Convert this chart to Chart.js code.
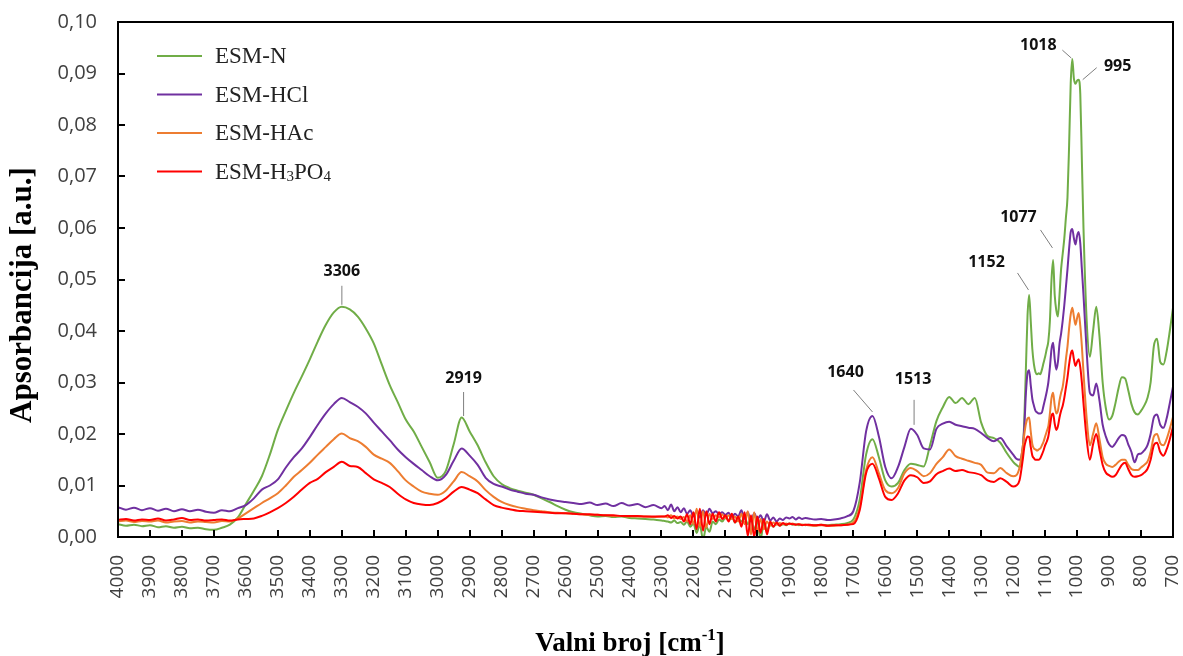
<!DOCTYPE html>
<html>
<head>
<meta charset="utf-8">
<script src="https://cdn.jsdelivr.net/npm/chart.js@4/dist/chart.umd.min.js"></script>
<style>
  html, body { margin: 0; padding: 0; background: #fff; }
  #wrap { width: 1183px; height: 656px; }
</style>
</head>
<body>
<div id="wrap"><canvas id="ftir" width="1183" height="656"></canvas></div>
<script>
// Valni brojevi (cm-1), zajednički za sve serije
const wavenumbers = [
  // 4000-2300, korak 25
  4000,3975,3950,3925,3900,3875,3850,3825,3800,3775,
  3750,3725,3700,3675,3650,3625,3600,3575,3550,3525,
  3500,3475,3450,3425,3400,3375,3350,3325,3300,3275,
  3250,3225,3200,3175,3150,3125,3100,3075,3050,3025,
  3000,2975,2950,2925,2900,2875,2850,2825,2800,2775,
  2750,2725,2700,2675,2650,2625,2600,2575,2550,2525,
  2500,2475,2450,2425,2400,2375,2350,2325,2300,
  // 2290-1850, korak 10
  2290,2280,2270,2260,2250,2240,2230,2220,2210,2200,
  2190,2180,2170,2160,2150,2140,2130,2120,2110,2100,
  2090,2080,2070,2060,2050,2040,2030,2020,2010,2000,
  1990,1980,1970,1960,1950,1940,1930,1920,1910,1900,
  1890,1880,1870,1860,1850,
  // 1840-1200, korak 20
  1840,1820,1800,1780,1760,1740,1720,1700,1680,1660,
  1640,1620,1600,1580,1560,1540,1520,1500,1480,1460,
  1440,1420,1400,1380,1360,1340,1320,1300,1280,1260,
  1240,1220,1200,
  // 1190-700
  1190,1180,1170,1165,1160,1155,1150,1145,1140,1135,
  1130,1125,1120,1115,1110,1105,1100,1095,1090,1085,
  1080,1075,1070,1065,1060,1055,1050,1045,1040,1035,
  1030,1025,1020,1015,1010,1005,1000,995,990,985,
  980,970,960,950,940,930,920,910,900,890,
  880,870,860,850,840,830,820,810,800,790,
  780,770,760,750,740,730,720,710,700
];

const esmN = [
  0.0025,0.0022,0.0024,0.0021,0.0023,0.0019,0.0021,0.0018,0.0020,0.0017,
  0.0018,0.0015,0.0014,0.0018,0.0024,0.0038,0.0064,0.0090,0.0118,0.0160,
  0.0208,0.0245,0.0280,0.0312,0.0345,0.0380,0.0412,0.0436,0.0447,0.0442,
  0.0428,0.0405,0.0376,0.0335,0.0295,0.0262,0.0228,0.0205,0.0175,0.0145,
  0.0115,0.0128,0.0180,0.0232,0.0205,0.0178,0.0145,0.0118,0.0103,0.0095,
  0.0090,0.0086,0.0082,0.0075,0.0068,0.0060,0.0053,0.0048,0.0045,0.0042,
  0.0040,0.0041,0.0039,0.0040,0.0037,0.0036,0.0035,0.0034,0.0032,
  0.0031,0.0030,0.0028,0.0032,0.0027,0.0029,0.0024,0.0030,0.0020,0.0026,
  0.0008,0.0024,-0.0005,0.0020,0.0010,0.0030,0.0025,0.0034,0.0030,0.0038,
  0.0033,0.0040,0.0028,0.0036,0.0030,0.0038,0.0025,0.0035,0.0015,0.0030,
  -0.0005,0.0028,0.0012,0.0025,0.0020,0.0026,0.0022,0.0025,0.0023,0.0026,
  0.0024,0.0025,0.0023,0.0024,0.0023,
  0.0024,0.0023,0.0024,0.0023,0.0024,0.0025,0.0027,0.0034,0.0072,0.0160,
  0.0190,0.0155,0.0110,0.0098,0.0105,0.0130,0.0142,0.0140,0.0137,0.0178,
  0.0225,0.0252,0.0272,0.0260,0.0270,0.0258,0.0270,0.0222,0.0196,0.0192,
  0.0183,0.0163,0.0146,
  0.0140,0.0136,0.0165,0.0230,0.0330,0.0430,0.0470,0.0420,0.0365,0.0335,
  0.0320,0.0316,0.0318,0.0316,0.0325,0.0338,0.0350,0.0365,0.0380,0.0420,
  0.0500,0.0538,0.0470,0.0440,0.0428,0.0470,0.0520,0.0550,0.0580,0.0620,
  0.0660,0.0760,0.0880,0.0928,0.0890,0.0880,0.0886,0.0888,0.0860,0.0730,
  0.0600,0.0420,0.0350,0.0400,0.0447,0.0390,0.0300,0.0250,0.0228,0.0235,
  0.0260,0.0290,0.0310,0.0308,0.0285,0.0258,0.0242,0.0238,0.0245,0.0255,
  0.0270,0.0300,0.0370,0.0385,0.0340,0.0335,0.0360,0.0400,0.0445
];

const esmHCl = [
  0.0058,0.0053,0.0057,0.0052,0.0056,0.0051,0.0055,0.0050,0.0054,0.0050,
  0.0053,0.0049,0.0047,0.0052,0.0050,0.0056,0.0062,0.0075,0.0092,0.0100,
  0.0112,0.0135,0.0155,0.0172,0.0194,0.0218,0.0240,0.0258,0.0270,0.0262,
  0.0253,0.0240,0.0222,0.0205,0.0188,0.0170,0.0155,0.0142,0.0130,0.0118,
  0.0110,0.0120,0.0148,0.0172,0.0158,0.0140,0.0115,0.0103,0.0098,0.0092,
  0.0088,0.0084,0.0082,0.0077,0.0073,0.0070,0.0068,0.0066,0.0064,0.0067,
  0.0062,0.0065,0.0060,0.0066,0.0061,0.0064,0.0058,0.0062,0.0056,
  0.0060,0.0052,0.0063,0.0050,0.0058,0.0048,0.0056,0.0045,0.0052,0.0040,
  0.0050,0.0038,0.0052,0.0042,0.0055,0.0046,0.0050,0.0044,0.0048,0.0043,
  0.0047,0.0038,0.0045,0.0040,0.0052,0.0035,0.0048,0.0030,0.0046,0.0035,
  0.0042,0.0030,0.0044,0.0032,0.0038,0.0030,0.0036,0.0033,0.0038,0.0036,
  0.0039,0.0034,0.0038,0.0035,0.0037,
  0.0036,0.0034,0.0035,0.0033,0.0034,0.0036,0.0040,0.0050,0.0105,0.0205,
  0.0235,0.0195,0.0136,0.0114,0.0136,0.0175,0.0210,0.0198,0.0172,0.0170,
  0.0210,0.0220,0.0224,0.0218,0.0215,0.0212,0.0210,0.0202,0.0192,0.0186,
  0.0192,0.0176,0.0160,
  0.0152,0.0150,0.0175,0.0215,0.0280,0.0318,0.0324,0.0295,0.0268,0.0255,
  0.0245,0.0242,0.0240,0.0240,0.0242,0.0255,0.0268,0.0282,0.0300,0.0330,
  0.0365,0.0377,0.0345,0.0325,0.0340,0.0375,0.0395,0.0420,0.0450,0.0485,
  0.0520,0.0560,0.0592,0.0598,0.0580,0.0568,0.0585,0.0592,0.0570,0.0520,
  0.0470,0.0360,0.0280,0.0275,0.0298,0.0265,0.0218,0.0195,0.0180,0.0175,
  0.0182,0.0192,0.0198,0.0196,0.0180,0.0165,0.0145,0.0160,0.0162,0.0168,
  0.0178,0.0200,0.0232,0.0238,0.0218,0.0212,0.0230,0.0260,0.0292
];

const esmHAc = [
  0.0030,0.0032,0.0029,0.0031,0.0030,0.0032,0.0028,0.0030,0.0031,0.0028,
  0.0030,0.0029,0.0028,0.0031,0.0030,0.0036,0.0046,0.0056,0.0066,0.0075,
  0.0085,0.0100,0.0117,0.0130,0.0144,0.0160,0.0175,0.0190,0.0201,0.0192,
  0.0186,0.0175,0.0160,0.0152,0.0144,0.0128,0.0110,0.0098,0.0088,0.0084,
  0.0082,0.0090,0.0108,0.0126,0.0118,0.0108,0.0091,0.0078,0.0068,0.0062,
  0.0058,0.0055,0.0052,0.0050,0.0048,0.0047,0.0046,0.0045,0.0044,0.0043,
  0.0043,0.0042,0.0041,0.0041,0.0040,0.0040,0.0040,0.0039,0.0040,
  0.0040,0.0038,0.0042,0.0036,0.0040,0.0035,0.0039,0.0030,0.0042,0.0025,
  0.0055,0.0020,0.0050,0.0018,0.0045,0.0035,0.0042,0.0038,0.0044,0.0036,
  0.0042,0.0035,0.0040,0.0030,0.0045,0.0025,0.0050,0.0005,0.0048,0.0010,
  0.0035,0.0015,0.0030,0.0022,0.0028,0.0024,0.0027,0.0025,0.0026,0.0025,
  0.0026,0.0024,0.0025,0.0024,0.0024,
  0.0023,0.0022,0.0023,0.0022,0.0022,0.0023,0.0024,0.0028,0.0058,0.0130,
  0.0155,0.0124,0.0091,0.0085,0.0095,0.0124,0.0134,0.0128,0.0118,0.0124,
  0.0142,0.0155,0.0170,0.0157,0.0152,0.0148,0.0144,0.0140,0.0125,0.0124,
  0.0134,0.0124,0.0118,
  0.0120,0.0135,0.0175,0.0200,0.0220,0.0230,0.0232,0.0205,0.0180,0.0172,
  0.0170,0.0168,0.0170,0.0172,0.0178,0.0185,0.0195,0.0205,0.0215,0.0240,
  0.0270,0.0280,0.0255,0.0240,0.0245,0.0265,0.0280,0.0292,0.0315,0.0345,
  0.0370,0.0405,0.0432,0.0445,0.0428,0.0412,0.0425,0.0435,0.0410,0.0370,
  0.0320,0.0230,0.0178,0.0200,0.0221,0.0190,0.0155,0.0142,0.0138,0.0136,
  0.0140,0.0146,0.0150,0.0150,0.0140,0.0132,0.0130,0.0130,0.0135,0.0140,
  0.0146,0.0165,0.0195,0.0200,0.0182,0.0178,0.0190,0.0210,0.0233
];

const esmH3PO4 = [
  0.0033,0.0035,0.0032,0.0034,0.0033,0.0036,0.0032,0.0034,0.0037,0.0033,
  0.0034,0.0032,0.0033,0.0034,0.0032,0.0034,0.0035,0.0036,0.0041,0.0048,
  0.0056,0.0066,0.0078,0.0092,0.0105,0.0113,0.0126,0.0136,0.0146,0.0138,
  0.0136,0.0124,0.0112,0.0105,0.0097,0.0084,0.0073,0.0066,0.0063,0.0062,
  0.0066,0.0075,0.0088,0.0097,0.0092,0.0085,0.0073,0.0062,0.0057,0.0054,
  0.0051,0.0050,0.0049,0.0048,0.0047,0.0046,0.0046,0.0045,0.0044,0.0044,
  0.0043,0.0042,0.0042,0.0041,0.0041,0.0041,0.0040,0.0040,0.0040,
  0.0040,0.0042,0.0037,0.0041,0.0036,0.0040,0.0030,0.0044,0.0025,0.0048,
  0.0015,0.0055,0.0012,0.0050,0.0025,0.0045,0.0030,0.0048,0.0035,0.0042,
  0.0030,0.0045,0.0028,0.0040,0.0020,0.0048,0.0002,0.0042,0.0000,0.0040,
  0.0008,0.0035,0.0005,0.0030,0.0020,0.0028,0.0022,0.0027,0.0024,0.0026,
  0.0025,0.0024,0.0025,0.0023,0.0024,
  0.0024,0.0023,0.0024,0.0022,0.0023,0.0023,0.0024,0.0025,0.0052,0.0124,
  0.0142,0.0114,0.0078,0.0072,0.0085,0.0110,0.0120,0.0116,0.0105,0.0108,
  0.0122,0.0128,0.0133,0.0128,0.0130,0.0126,0.0124,0.0120,0.0110,0.0107,
  0.0114,0.0107,0.0098,
  0.0100,0.0110,0.0150,0.0175,0.0188,0.0195,0.0194,0.0175,0.0158,0.0153,
  0.0150,0.0150,0.0150,0.0153,0.0160,0.0168,0.0178,0.0185,0.0195,0.0215,
  0.0235,0.0240,0.0220,0.0208,0.0215,0.0232,0.0245,0.0255,0.0270,0.0290,
  0.0310,0.0335,0.0355,0.0362,0.0345,0.0332,0.0340,0.0345,0.0330,0.0300,
  0.0260,0.0190,0.0150,0.0180,0.0200,0.0170,0.0140,0.0125,0.0120,0.0117,
  0.0120,0.0130,0.0140,0.0144,0.0132,0.0120,0.0117,0.0118,0.0120,0.0125,
  0.0132,0.0150,0.0178,0.0183,0.0165,0.0158,0.0170,0.0190,0.0214
];

const seriesNames = ['ESM-N', 'ESM-HCl', 'ESM-HAc', 'ESM-H3PO4'];
const seriesValues = [esmN, esmHCl, esmHAc, esmH3PO4];

// Označeni pikovi
const peakWavenumbers = [3306, 2919, 1640, 1513, 1152, 1077, 1018, 995];
const peakValues = [0.0447, 0.0233, 0.0235, 0.0210, 0.0470, 0.0538, 0.0928, 0.0888];

const xTitle = 'Valni broj [cm';
const xTitleSup = '-1';
const yTitle = 'Apsorbancija [a.u.]';

// stil
const colors = ['#70AD47', '#7030A0', '#ED7D31', '#FF0000'];
// [linija od dx,dy, do dx,dy, tekst dx,dy] u pikselima od vrha
const peakOffsets = [
  [2, -2, 2, -21, 2, -35],
  [0, -1, 0, -25, 0, -39],
  [0, -4, -19, -26, -27, -44],
  [1, -4, 1, -29, 0, -49],
  [0, -5, -11, -22, -42, -33],
  [0, -12, -12, -30, -34, -42],
  [0, -1, -9, -9, -33, -14],
  [4, 0, 18, -12, 39, -13]
];

// tekst s indeksima (znamenke spuštene)
function drawSubscripted(ctx, text, x, y, size, family) {
  let cx = x;
  const parts = text.match(/\d+|\D+/g) || [];
  parts.forEach(p => {
    const sub = /^\d+$/.test(p);
    ctx.font = `${sub ? Math.round(size * 0.65) : size}px ${family}`;
    ctx.fillText(p, cx, sub ? y + size * 0.22 : y);
    cx += ctx.measureText(p).width;
  });
}

const decorations = {
  id: 'decorations',
  afterDraw(chart) {
    const { ctx, chartArea: a, scales: { x, y } } = chart;
    ctx.save();

    // okvir i unutarnje crtice
    ctx.strokeStyle = '#000';
    ctx.lineWidth = 2;
    ctx.strokeRect(a.left, a.top, a.right - a.left, a.bottom - a.top);
    ctx.beginPath();
    x.ticks.forEach(t => {
      const px = Math.round(x.getPixelForValue(t.value));
      ctx.moveTo(px, a.bottom);
      ctx.lineTo(px, a.bottom - 7);
    });
    y.ticks.forEach(t => {
      const py = Math.round(y.getPixelForValue(t.value));
      ctx.moveTo(a.left, py);
      ctx.lineTo(a.left + 7, py);
    });
    ctx.stroke();

    // pikovi
    ctx.strokeStyle = '#7f7f7f';
    ctx.lineWidth = 1;
    ctx.fillStyle = '#111';
    ctx.font = 'bold 16px "Open Sans"';
    ctx.textAlign = 'center';
    ctx.textBaseline = 'middle';
    peakWavenumbers.forEach((w, i) => {
      const px = x.getPixelForValue(w);
      const py = y.getPixelForValue(peakValues[i]);
      const o = peakOffsets[i];
      ctx.beginPath();
      ctx.moveTo(px + o[0], py + o[1]);
      ctx.lineTo(px + o[2], py + o[3]);
      ctx.stroke();
      ctx.fillText(String(w), px + o[4], py + o[5]);
    });

    // legenda
    ctx.textAlign = 'left';
    ctx.textBaseline = 'middle';
    seriesNames.forEach((name, i) => {
      const ly = 56 + i * 38.5;
      ctx.strokeStyle = colors[i];
      ctx.lineWidth = 2;
      ctx.beginPath();
      ctx.moveTo(157, ly);
      ctx.lineTo(202, ly);
      ctx.stroke();
      ctx.fillStyle = '#222';
      drawSubscripted(ctx, name, 215, ly + 1, 23, '"Liberation Serif", "Times New Roman", serif');
    });

    // naslovi osi
    ctx.fillStyle = '#000';
    ctx.textBaseline = 'alphabetic';
    ctx.font = 'bold 27px "Liberation Serif", serif';
    const w1 = ctx.measureText(xTitle).width;
    ctx.font = 'bold 17px "Liberation Serif", serif';
    const w2 = ctx.measureText(xTitleSup).width;
    ctx.font = 'bold 27px "Liberation Serif", serif';
    const w3 = ctx.measureText(']').width;
    let tx = 630 - (w1 + w2 + w3) / 2;
    const ty = 651;
    ctx.fillText(xTitle, tx, ty);
    tx += w1;
    ctx.font = 'bold 17px "Liberation Serif", serif';
    ctx.fillText(xTitleSup, tx, ty - 11);
    tx += w2;
    ctx.font = 'bold 27px "Liberation Serif", serif';
    ctx.fillText(']', tx, ty);

    ctx.save();
    ctx.translate(23, 295);
    ctx.rotate(-Math.PI / 2);
    ctx.textAlign = 'center';
    ctx.textBaseline = 'middle';
    ctx.font = 'bold 31px "Liberation Serif", serif';
    ctx.fillText(yTitle, 0, 0);
    ctx.restore();

    ctx.restore();
  }
};

const datasets = seriesNames.map((name, i) => ({
  label: name,
  data: wavenumbers.map((w, j) => ({ x: w, y: seriesValues[i][j] })),
  borderColor: colors[i],
  backgroundColor: colors[i],
  borderWidth: 2,
  pointRadius: 0,
  cubicInterpolationMode: 'monotone',
  order: seriesNames.length - 1 - i
}));

new Chart(document.getElementById('ftir'), {
  type: 'line',
  data: { datasets },
  options: {
    responsive: false,
    animation: false,
    layout: { padding: { top: 22, right: 10, left: 0, bottom: 0 } },
    plugins: { legend: { display: false }, tooltip: { enabled: false } },
    scales: {
      x: {
        type: 'linear',
        reverse: true,
        min: 700,
        max: 4000,
        grid: { display: false, drawTicks: false },
        border: { display: false },
        ticks: {
          stepSize: 100,
          autoSkip: false,
          minRotation: 90,
          maxRotation: 90,
          padding: 18,
          color: '#404040',
          font: { family: '"Open Sans"', size: 19 },
          callback: v => String(v)
        },
        afterFit: s => { s.height = 119; s.paddingLeft = 0; s.paddingRight = 0; }
      },
      y: {
        min: 0,
        max: 0.1,
        grid: { display: false, drawTicks: false },
        border: { display: false },
        ticks: {
          stepSize: 0.01,
          padding: 21,
          color: '#404040',
          font: { family: '"Open Sans"', size: 20 },
          callback: v => v.toFixed(2).replace('.', ',')
        },
        afterFit: s => { s.width = 118; s.paddingTop = 0; s.paddingBottom = 0; }
      }
    }
  },
  plugins: [decorations]
});
</script>
</body>
</html>
